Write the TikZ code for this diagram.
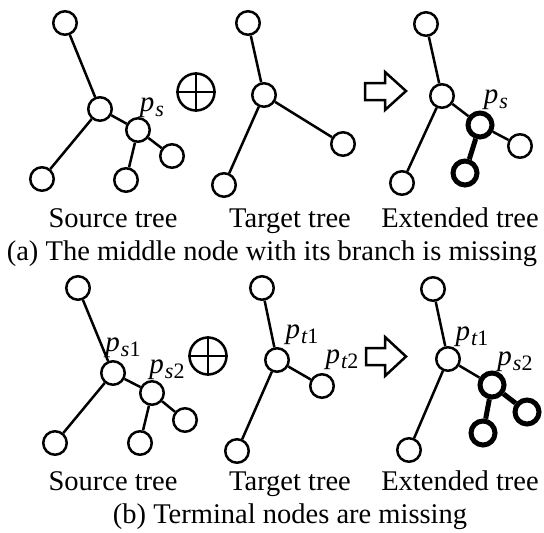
\documentclass[tikz,border=0pt]{standalone}
\usepackage{fontspec}
\setmainfont{Liberation Serif}
\usetikzlibrary{arrows.meta}
\tikzset{
  vert/.style={circle,draw,line width=2.5pt,minimum size=23.5pt,inner sep=0pt,fill=white},
  vertnew/.style={vert,line width=5pt,minimum size=24pt},
  edge/.style={line width=2.5pt},
  edgenew/.style={line width=5pt},
  txt/.style={inner sep=0pt,anchor=base,font=\fontsize{28.5}{34}\selectfont},
  lab/.style={inner sep=0pt,font=\fontsize{29}{34}\selectfont\itshape},
  plus/.style={circle,draw,line width=2.5pt,minimum size=37pt,inner sep=0pt},
}
% point label with subscript
\newcommand{\pt}[2]{p\kern1pt\raisebox{-4.5pt}{\fontsize{22}{26}\selectfont#1\upshape#2}}

\begin{document}
\begin{tikzpicture}[x=1pt,y=-1pt]

  \useasboundingbox (0,0) rectangle (544,533);

  % (a) source tree
  \node[vert] (sa1) at (65,23) {};
  \node[vert] (sa0) at (100,109) {};
  \node[vert] (sap) at (138,130) {};
  \node[vert] (sa2) at (42,179) {};
  \node[vert] (sa3) at (126,180) {};
  \node[vert] (sa4) at (172,156) {};
  \draw[edge] (sa1) -- (sa0);
  \draw[edge] (sa0) -- (sa2);
  \draw[edge] (sa0) -- (sap);
  \draw[edge] (sap) -- (sa3);
  \draw[edge] (sap) -- (sa4);
  \node[lab] (lsap) at (152,108) {\pt{s}{}};

  \node[plus] (pa) at (196,92) {};
  \draw[line width=2.5pt] (pa.north) -- (pa.south);
  \draw[line width=2.5pt] (pa.west) -- (pa.east);

  % (a) target tree
  \node[vert] (ta1) at (248,23) {};
  \node[vert] (ta0) at (264,95) {};
  \node[vert] (ta2) at (224,185) {};
  \node[vert] (ta3) at (343,144) {};
  \draw[edge] (ta1) -- (ta0);
  \draw[edge] (ta0) -- (ta2);
  \draw[edge] (ta0) -- (ta3);

  % block arrow
  \draw[line width=2.5pt,line join=miter] (365,83) -- (385,83) -- (385,72) -- (406,91)
    -- (385,110) -- (385,100) -- (365,100) -- cycle;

  % (a) extended tree
  \node[vert] (ea1) at (426,24) {};
  \node[vert] (ea0) at (442,96) {};
  \node[vertnew] (eap) at (480,125) {};
  \node[vert] (ea2) at (402,183) {};
  \node[vertnew] (ea4) at (465,173) {};
  \node[vert] (ea3) at (520,146) {};
  \draw[edge] (ea1) -- (ea0);
  \draw[edge] (ea0) -- (ea2);
  \draw[edge] (ea0) -- (eap);
  \draw[edge] (eap) -- (ea3);
  \draw[edgenew] (eap) -- (ea4);
  \node[lab] (leap) at (496,100) {\pt{s}{}};

  \node[txt] (srca) at (113,227) {Source tree};
  \node[txt] (tgta) at (290,227) {Target tree};
  \node[txt] (exta) at (460,227) {Extended tree};
  \node[txt] (capa) at (272,260) {(a) The middle node with its branch is missing};

  % (b) source tree
  \node[vert] (sb1) at (78,288) {};
  \node[vert] (sb0) at (113,373) {};
  \node[vert] (sbp) at (152,393) {};
  \node[vert] (sb2) at (55,443) {};
  \node[vert] (sb3) at (140,443) {};
  \node[vert] (sb4) at (185,420) {};
  \draw[edge] (sb1) -- (sb0);
  \draw[edge] (sb0) -- (sb2);
  \draw[edge] (sb0) -- (sbp);
  \draw[edge] (sbp) -- (sb3);
  \draw[edge] (sbp) -- (sb4);
  \node[lab] (lsb0) at (123,348) {\pt{s}{1}};
  \node[lab] (lsbp) at (167,370) {\pt{s}{2}};

  \node[plus] (pb) at (208,356) {};
  \draw[line width=2.5pt] (pb.north) -- (pb.south);
  \draw[line width=2.5pt] (pb.west) -- (pb.east);

  % (b) target tree
  \node[vert] (tb1) at (262,288) {};
  \node[vert] (tb0) at (277,360) {};
  \node[vert] (tb2) at (237,451) {};
  \node[vert] (tb3) at (322,386) {};
  \draw[edge] (tb1) -- (tb0);
  \draw[edge] (tb0) -- (tb2);
  \draw[edge] (tb0) -- (tb3);
  \node[lab] (ltb0) at (302,335) {\pt{t}{1}};
  \node[lab] (ltb3) at (342,360) {\pt{t}{2}};

  \draw[line width=2.5pt,line join=miter] (366,348) -- (385,348) -- (385,337) -- (406,356.5)
    -- (385,376) -- (385,365) -- (366,365) -- cycle;

  % (b) extended tree
  \node[vert] (eb1) at (433,289) {};
  \node[vert] (eb0) at (448,359) {};
  \node[vertnew] (ebp) at (492,385) {};
  \node[vert] (eb2) at (409,450) {};
  \node[vertnew] (eb3) at (483,433) {};
  \node[vertnew] (eb4) at (527,412) {};
  \draw[edge] (eb1) -- (eb0);
  \draw[edge] (eb0) -- (eb2);
  \draw[edge] (eb0) -- (ebp);
  \draw[edgenew] (ebp) -- (eb3);
  \draw[edgenew] (ebp) -- (eb4);
  \node[lab] (leb0) at (472,337) {\pt{t}{1}};
  \node[lab] (lebp) at (515,362) {\pt{s}{2}};

  \node[txt] (srcb) at (113,490) {Source tree};
  \node[txt] (tgtb) at (290,490) {Target tree};
  \node[txt] (extb) at (460,490) {Extended tree};
  \node[txt] (capb) at (290,523) {(b) Terminal nodes are missing};

\end{tikzpicture}
\end{document}
